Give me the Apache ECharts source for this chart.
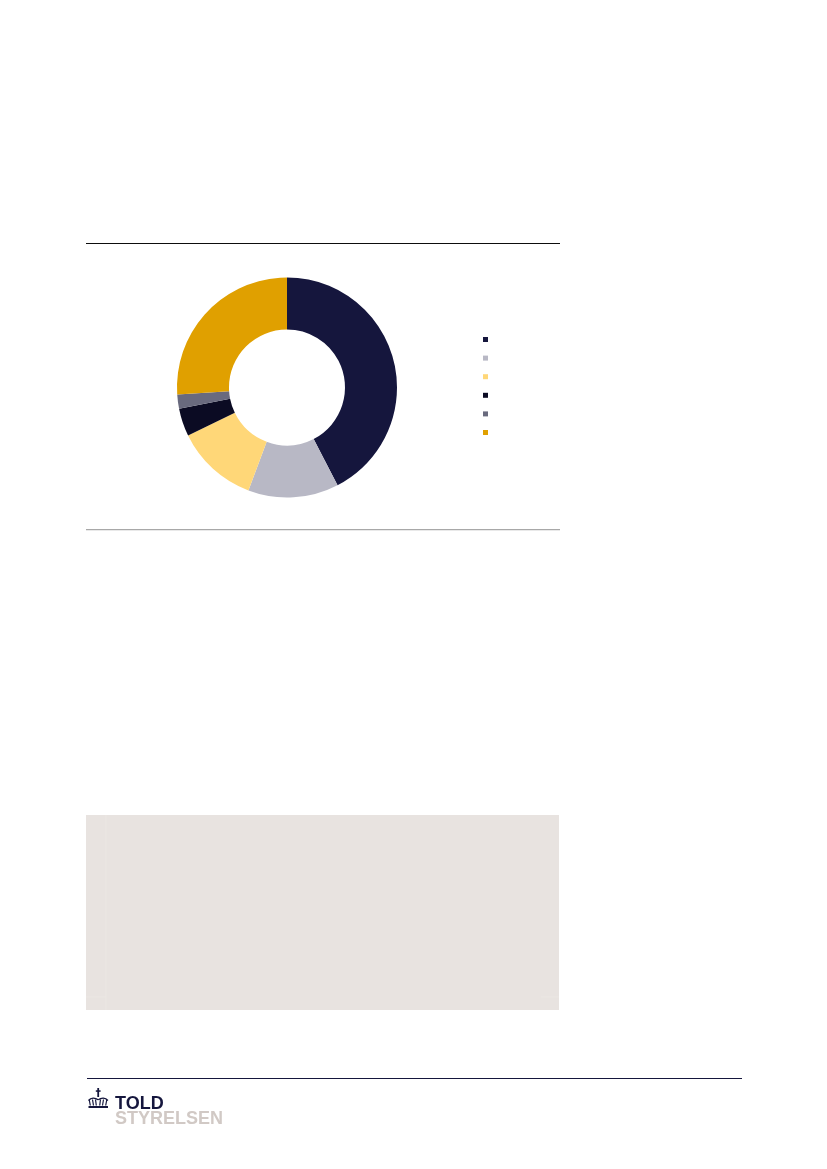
<!DOCTYPE html>
<html>
<head>
<meta charset="utf-8">
<script src="https://cdn.jsdelivr.net/npm/echarts@6/dist/echarts.min.js"></script>
<style>
html,body{margin:0;padding:0;background:#fff;}
#c{width:827px;height:1169px;}
</style>
</head>
<body>
<div id="c"></div>
<script>
const categories = ['Kategori 1','Kategori 2','Kategori 3','Kategori 4','Kategori 5','Kategori 6'];
const values = [42.4, 13.3, 12.1, 4.1, 2.1, 26.0];
const colors = ['#15163d','#b8b8c5','#ffd778','#0b0b23','#696a7e','#e0a000'];

const chart = echarts.init(document.getElementById('c'), null, {renderer:'canvas'});
const navy = '#15163d';
const crownStroke = {stroke:navy, fill:null, lineWidth:1.2};
const crownLines = [
  [89.3,1100,90.3,1105.5],[92.5,1099.5,93.5,1105.5],[95.5,1099.5,96.3,1105.5],
  [100.5,1099.5,99.7,1105.5],[103.5,1099.5,102.5,1105.5],[106.7,1100,105.7,1105.5]
].map(a=>({type:'line', shape:{x1:a[0],y1:a[1],x2:a[2],y2:a[3]}, style:crownStroke}));

chart.setOption({
  animation:false,
  color: colors,
  legend:{
    orient:'vertical', left:478, top:332,
    itemWidth:5, itemHeight:5, itemGap:13.6,
    icon:'rect',
    formatter:()=>'',
    textStyle:{fontSize:5, lineHeight:5, padding:0},
    selectedMode:false,
    data: categories
  },
  series:[{
    type:'pie',
    center:[287,387.5],
    radius:[58,110],
    startAngle:90,
    clockwise:true,
    label:{show:false},
    labelLine:{show:false},
    emphasis:{disabled:true},
    itemStyle:{borderWidth:0},
    data: categories.map((n,i)=>({name:n, value:values[i]}))
  }],
  graphic:[
    {type:'rect', shape:{x:86, y:243, width:474, height:1}, style:{fill:'#0d0d0d'}},
    {type:'rect', shape:{x:86, y:529, width:474, height:1.2}, style:{fill:'#a8a8a8'}},
    {type:'rect', shape:{x:86, y:815, width:473, height:195}, style:{fill:'#e8e3e0'}},
    {type:'line', shape:{x1:106, y1:815, x2:106, y2:1010}, style:{stroke:'#ece8e5', lineWidth:0.8}},
    {type:'line', shape:{x1:86, y1:997, x2:106, y2:997}, style:{stroke:'#ece8e5', lineWidth:0.8}},
    {type:'line', shape:{x1:541, y1:997, x2:559, y2:997}, style:{stroke:'#ece8e5', lineWidth:0.8}},
    {type:'rect', shape:{x:87, y:1078, width:655, height:1}, style:{fill:navy}},
    // crown
    {type:'rect', shape:{x:97.3, y:1088, width:1.8, height:9}, style:{fill:navy}},
    {type:'rect', shape:{x:95.8, y:1090.3, width:4.8, height:1.5}, style:{fill:navy}},
    {type:'bezierCurve', shape:{x1:88.5,y1:1100.5,cpx1:91,cpy1:1097.5,cpx2:95,cpy2:1097.5,x2:98.2,y2:1099.8}, style:{stroke:navy, fill:null, lineWidth:1.4}},
    {type:'bezierCurve', shape:{x1:98.2,y1:1099.8,cpx1:101.4,cpy1:1097.5,cpx2:105.4,cpy2:1097.5,x2:107.9,y2:1100.5}, style:{stroke:navy, fill:null, lineWidth:1.4}},
    ...crownLines,
    {type:'rect', shape:{x:88.5, y:1106, width:19.5, height:2}, style:{fill:navy}},
    {type:'text', x:115, y:1104.5, style:{text:'TOLD', font:'bold 18px "Liberation Sans"', fill:navy, verticalAlign:'middle'}},
    {type:'text', x:115, y:1119, style:{text:'STYRELSEN', font:'bold 18px "Liberation Sans"', fill:'#d1c9c5', verticalAlign:'middle'}}
  ]
});
</script>
</body>
</html>
